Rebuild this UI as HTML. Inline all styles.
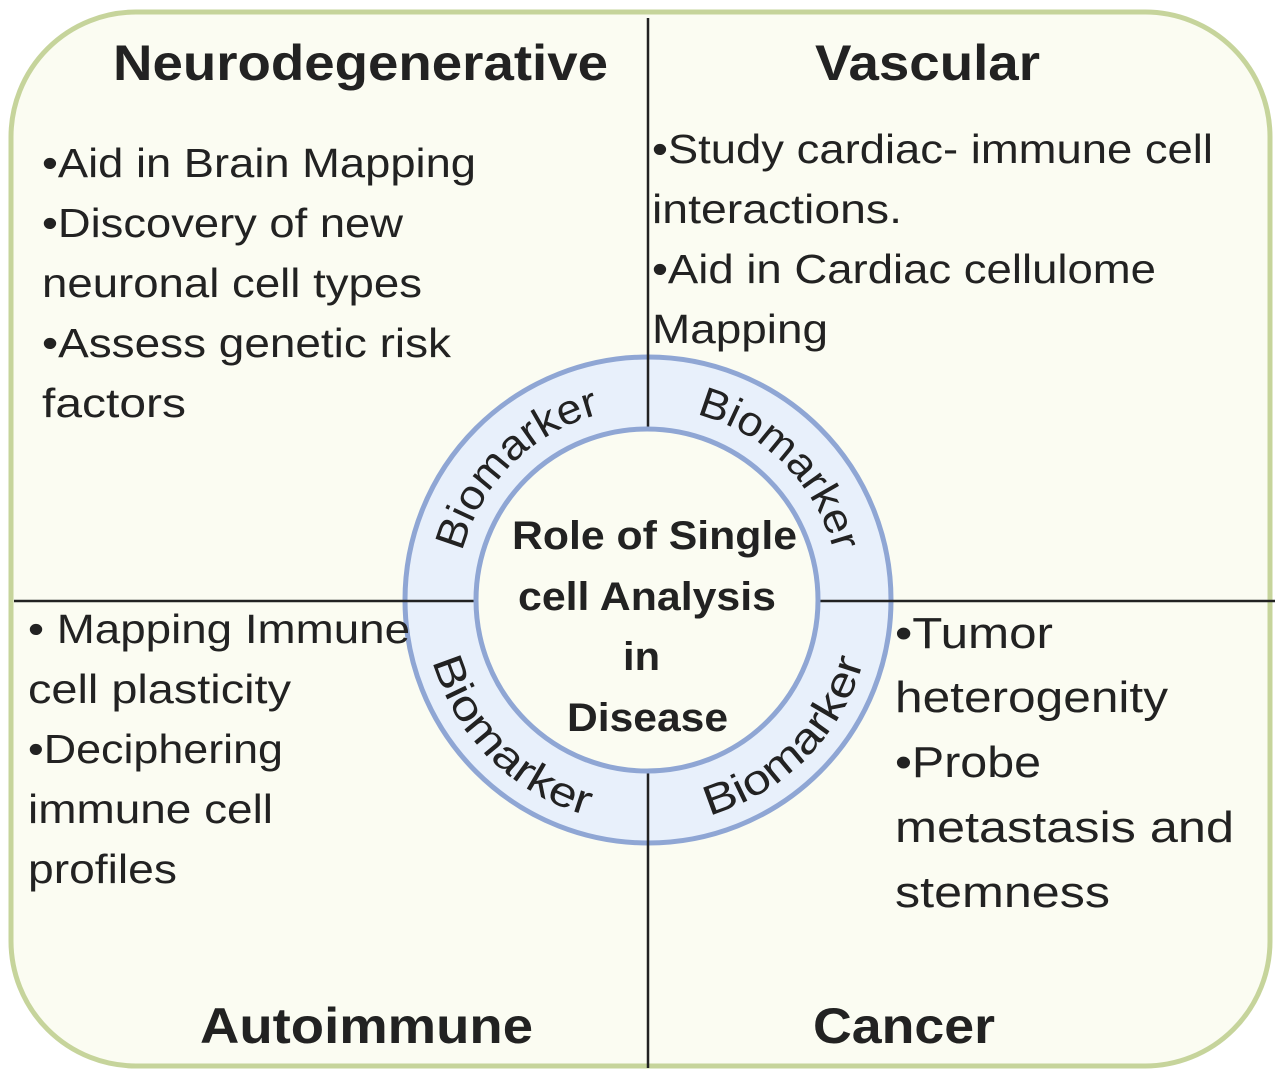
<!DOCTYPE html>
<html><head><meta charset="utf-8"><style>
html,body{margin:0;padding:0;background:#fff;}
svg{display:block;}
text{font-family:"Liberation Sans",Arial,sans-serif;fill:#222;}
.h{font-weight:bold;font-size:50px;}
.b{font-size:41px;}
.c{font-weight:bold;font-size:40px;}
.m{font-size:42px;}
</style></head><body>
<svg width="1280" height="1072" viewBox="0 0 1280 1072" xmlns="http://www.w3.org/2000/svg">
<rect x="11" y="12" width="1259" height="1054" rx="125" ry="125" fill="#fbfcf2" stroke="#c6d49b" stroke-width="5"/>
<circle cx="648" cy="600" r="243" fill="#e8f0fb" stroke="#8fa6d4" stroke-width="5"/>
<line x1="648" y1="18" x2="648" y2="1068" stroke="#222" stroke-width="2.5"/>
<line x1="14" y1="601" x2="1275" y2="601" stroke="#222" stroke-width="2.5"/>
<circle cx="647" cy="600" r="171" fill="#fbfcf2" stroke="#8fa6d4" stroke-width="5"/>
<defs>
<path id="tl" d="M 456 600 A 192 192 0 0 1 648 408"/>
<path id="tr" d="M 648 408 A 192 192 0 0 1 840 600"/>
<path id="bl" d="M 424 600 A 224 224 0 0 0 648 824"/>
<path id="br" d="M 648 824 A 224 224 0 0 0 872 600"/>
</defs>
<text class="m"><textPath href="#tl" startOffset="50%" text-anchor="middle" textLength="204" lengthAdjust="spacingAndGlyphs">Biomarker</textPath></text>
<text class="m"><textPath href="#tr" startOffset="50%" text-anchor="middle" textLength="204" lengthAdjust="spacingAndGlyphs">Biomarker</textPath></text>
<text class="m"><textPath href="#bl" startOffset="50%" text-anchor="middle" textLength="228" lengthAdjust="spacingAndGlyphs">Biomarker</textPath></text>
<text class="m"><textPath href="#br" startOffset="50%" text-anchor="middle" textLength="228" lengthAdjust="spacingAndGlyphs">Biomarker</textPath></text>

<text class="c" x="512" y="549" textLength="285" lengthAdjust="spacingAndGlyphs">Role of Single</text>
<text class="c" x="518" y="610" textLength="258" lengthAdjust="spacingAndGlyphs">cell Analysis</text>
<text class="c" x="623" y="670" textLength="37" lengthAdjust="spacingAndGlyphs">in</text>
<text class="c" x="567" y="731" textLength="161" lengthAdjust="spacingAndGlyphs">Disease</text>

<text class="h" x="113" y="80" textLength="495" lengthAdjust="spacingAndGlyphs">Neurodegenerative</text>
<text class="h" x="815" y="80" textLength="225" lengthAdjust="spacingAndGlyphs">Vascular</text>
<text class="h" x="200" y="1043" textLength="333" lengthAdjust="spacingAndGlyphs">Autoimmune</text>
<text class="h" x="813" y="1043" textLength="182" lengthAdjust="spacingAndGlyphs">Cancer</text>

<g class="b">
<text class="b" x="42" y="177" textLength="434" lengthAdjust="spacingAndGlyphs">•Aid in Brain Mapping</text>
<text class="b" x="42" y="237" textLength="361" lengthAdjust="spacingAndGlyphs">•Discovery of new</text>
<text class="b" x="42" y="297" textLength="380" lengthAdjust="spacingAndGlyphs">neuronal cell types</text>
<text class="b" x="42" y="357" textLength="409" lengthAdjust="spacingAndGlyphs">•Assess genetic risk</text>
<text class="b" x="42" y="417" textLength="144" lengthAdjust="spacingAndGlyphs">factors</text>

<text class="b" x="652" y="163" textLength="561" lengthAdjust="spacingAndGlyphs">•Study cardiac- immune cell</text>
<text class="b" x="652" y="223" textLength="250" lengthAdjust="spacingAndGlyphs">interactions.</text>
<text class="b" x="652" y="283" textLength="504" lengthAdjust="spacingAndGlyphs">•Aid in Cardiac cellulome</text>
<text class="b" x="652" y="343" textLength="176" lengthAdjust="spacingAndGlyphs">Mapping</text>

<text class="b" x="28" y="643" textLength="382" lengthAdjust="spacingAndGlyphs">• Mapping Immune</text>
<text class="b" x="28" y="703" textLength="263" lengthAdjust="spacingAndGlyphs">cell plasticity</text>
<text class="b" x="28" y="763" textLength="255" lengthAdjust="spacingAndGlyphs">•Deciphering</text>
<text class="b" x="28" y="823" textLength="245" lengthAdjust="spacingAndGlyphs">immune cell</text>
<text class="b" x="28" y="883" textLength="149" lengthAdjust="spacingAndGlyphs">profiles</text>

<text class="b" style="font-size:44px" x="895" y="648" textLength="158" lengthAdjust="spacingAndGlyphs">•Tumor</text>
<text class="b" style="font-size:44px" x="895" y="712" textLength="273" lengthAdjust="spacingAndGlyphs">heterogenity</text>
<text class="b" style="font-size:44px" x="895" y="777" textLength="146" lengthAdjust="spacingAndGlyphs">•Probe</text>
<text class="b" style="font-size:44px" x="895" y="842" textLength="339" lengthAdjust="spacingAndGlyphs">metastasis and</text>
<text class="b" style="font-size:44px" x="895" y="907" textLength="215" lengthAdjust="spacingAndGlyphs">stemness</text>
</g>
</svg>
</body></html>
